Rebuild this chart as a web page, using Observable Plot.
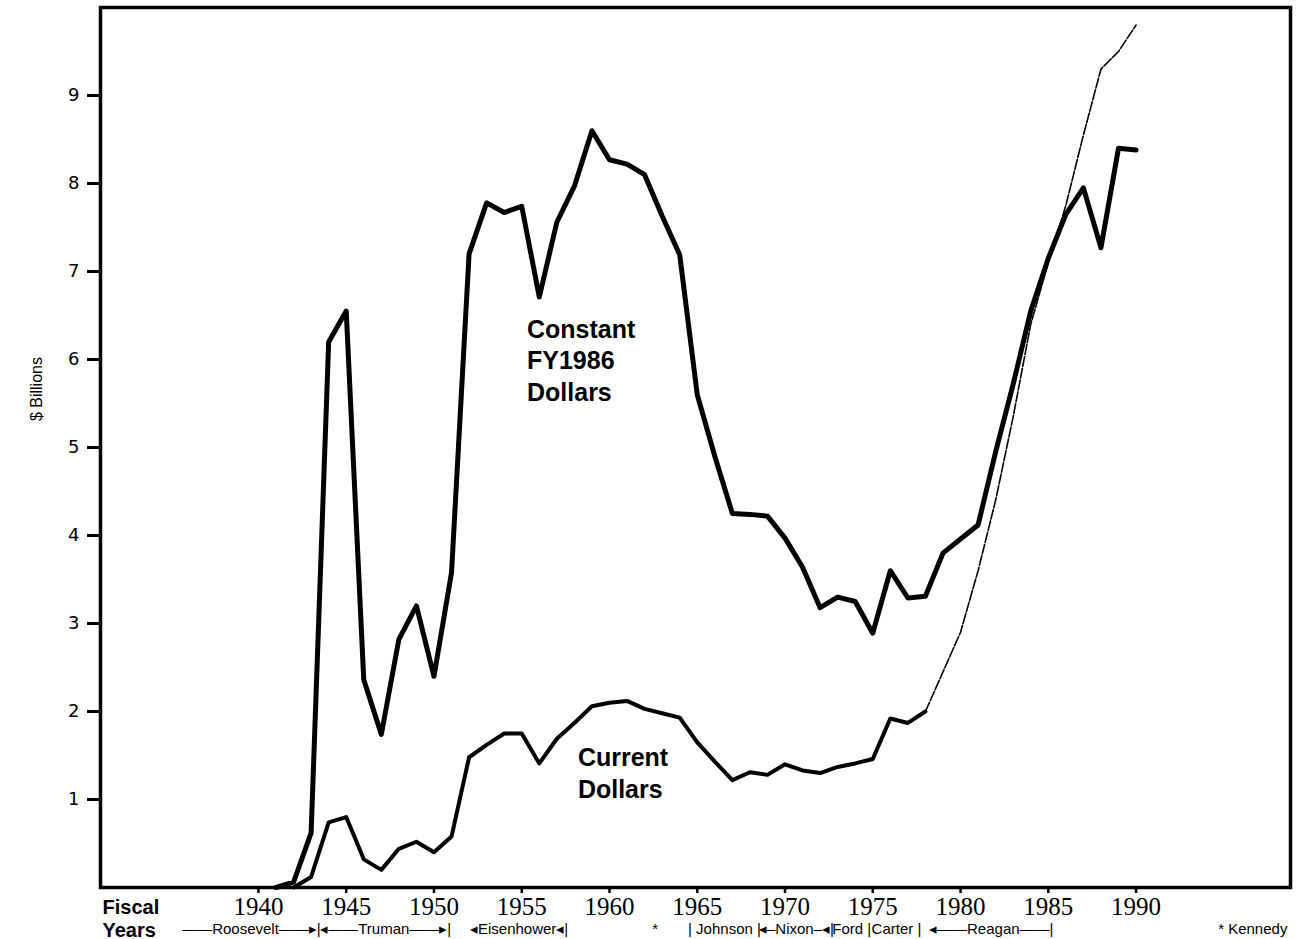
<!DOCTYPE html>
<html>
<head>
<meta charset="utf-8">
<script src="https://cdn.jsdelivr.net/npm/d3@7"></script>
<script src="https://cdn.jsdelivr.net/npm/@observablehq/plot@0.6"></script>
<style>
  html, body { margin: 0; padding: 0; background: #fff; }
  #chart svg { display: block; }
</style>
</head>
<body>
<div id="chart"></div>
<script>
// ---- Data ----
const constantYears = [1941,1942,1943,1944,1945,1946,1947,1948,1949,1950,
  1951,1952,1953,1954,1955,1956,1957,1958,1959,1960,
  1961,1962,1963,1964,1965,1966,1967,1968,1969,1970,
  1971,1972,1973,1974,1975,1976,1977,1978,1979,1980,
  1981,1982,1983,1984,1985,1986,1987,1988,1989,1990];
const constantValues = [0.0,0.06,0.62,6.2,6.55,2.36,1.74,2.82,3.2,2.4,
  3.58,7.2,7.78,7.67,7.74,6.71,7.56,7.97,8.6,8.27,
  8.22,8.1,7.63,7.19,5.6,4.9,4.25,4.24,4.22,3.97,
  3.64,3.18,3.3,3.25,2.89,3.6,3.29,3.31,3.8,3.96,
  4.12,4.95,5.72,6.55,7.15,7.65,7.95,7.27,8.4,8.38];

const currentYears = [1942,1943,1944,1945,1946,1947,1948,1949,1950,
  1951,1952,1953,1954,1955,1956,1957,1958,1959,1960,
  1961,1962,1963,1964,1965,1966,1967,1968,1969,1970,
  1971,1972,1973,1974,1975,1976,1977,1978];
const currentValues = [0.0,0.12,0.74,0.8,0.32,0.2,0.44,0.52,0.4,
  0.58,1.48,1.62,1.75,1.75,1.41,1.69,1.87,2.06,2.1,
  2.12,2.03,1.98,1.93,1.65,1.43,1.22,1.31,1.28,1.4,
  1.33,1.3,1.37,1.41,1.46,1.92,1.87,2.0];

// later years of the current-dollar series, drawn as a thin line
const currentLateYears = [1978,1979,1980,1981,1982,1983,1984,1985,1986,1987,1988,1989,1990];
const currentLateValues = [2.0,2.45,2.9,3.6,4.4,5.35,6.4,7.1,7.75,8.55,9.3,9.5,9.8];

const yTicks = [1,2,3,4,5,6,7,8,9];
const xTicks = [1940,1945,1950,1955,1960,1965,1970,1975,1980,1985,1990];

// presidents row under the axis (label, start year, end year as drawn)
const presLabels = ["——Roosevelt——▸|","◂——Truman——▸|","◂Eisenhower◂|","*","| Johnson |","◂–Nixon–◂|","Ford |","Carter |","◂——Reagan——|","* Kennedy"];
const presStart  = [1936.4,1943.0,1951.7,1962.3,1965.0,1968.6,1973.0,1974.9,1978.1,1994.9];
const presEnd    = [1942.8,1951.5,1958.0,1962.9,1968.1,1972.7,1974.6,1977.8,1985.4,1998.4];

const constantLabel = "Constant\nFY1986\nDollars";
const currentLabel = "Current\nDollars";
const yAxisLabel = "$ Billions";
const xAxisLabel = "Fiscal\nYears";

// ---- Tables built from the arrays ----
const constant = constantYears.map((year, i) => ({year, value: constantValues[i]}));
const current = currentYears.map((year, i) => ({year, value: currentValues[i]}));
const currentLate = currentLateYears.map((year, i) => ({year, value: currentLateValues[i]}));
const presidents = presLabels.map((label, i) => ({label, start: presStart[i], end: presEnd[i], mid: (presStart[i] + presEnd[i]) / 2}));

const sans = "'Liberation Sans', Arial, sans-serif";

const chart = Plot.plot({
  width: 1298,
  height: 939,
  marginLeft: 100,
  marginRight: 8,
  marginTop: 7,
  marginBottom: 52,
  style: {background: "#fff", color: "#000", fontFamily: sans, overflow: "visible"},
  x: {domain: [1931, 1998.8]},
  y: {domain: [0, 10]},
  marks: [
    Plot.axisY({ticks: yTicks, tickSize: 13, tickPadding: 8, strokeWidth: 3, fontSize: 18, fontFamily: "'DejaVu Sans', sans-serif", label: null, tickFormat: d => String(d)}),
    Plot.axisX({ticks: xTicks, tickSize: 6, tickPadding: 4, strokeWidth: 2.5, fontSize: 25, fontFamily: "'Liberation Serif', serif", label: null, tickFormat: d => String(d)}),
    Plot.line(current, {x: "year", y: "value", stroke: "#000", strokeWidth: 4, strokeLinejoin: "round", strokeLinecap: "round"}),
    Plot.line(currentLate, {x: "year", y: "value", stroke: "#000", strokeWidth: 1.6, strokeDasharray: "10,2", strokeLinejoin: "round"}),
    Plot.line(constant, {x: "year", y: "value", stroke: "#000", strokeWidth: 5, strokeLinejoin: "round", strokeLinecap: "round"}),
    Plot.frame({stroke: "#000", strokeWidth: 3.5}),
    Plot.text([constantLabel], {x: 1955.3, y: 6.5, text: d => d, textAnchor: "start", lineAnchor: "top", fontSize: 25, lineHeight: 1.26, fontWeight: "bold", fontFamily: sans, fill: "#000"}),
    Plot.text([currentLabel], {x: 1958.2, y: 1.64, text: d => d, textAnchor: "start", lineAnchor: "top", fontSize: 25, lineHeight: 1.28, fontWeight: "bold", fontFamily: sans, fill: "#000"}),
    Plot.text([yAxisLabel], {frameAnchor: "left", y: 5.3, dx: -64, rotate: -90, text: d => d, fontSize: 16, fontFamily: sans, fill: "#000"}),
    Plot.text([xAxisLabel], {frameAnchor: "bottom-left", dx: 2, dy: 10, text: d => d, textAnchor: "start", lineAnchor: "top", fontSize: 20, lineHeight: 1.15, fontWeight: "bold", fontFamily: sans, fill: "#000"}),
    Plot.text(presidents, {x: "mid", frameAnchor: "bottom", dy: 46, text: "label", fontSize: 15, fontFamily: sans, fill: "#000", ariaLabel: "presidents"})
  ]
});

document.getElementById("chart").appendChild(chart);

// stretch each president label to the span it covers on the x scale
const xs = chart.scale("x");
const presTexts = chart.querySelectorAll('g[aria-label="presidents"] text');
presTexts.forEach((t, i) => {
  const p = presidents[i];
  const w = xs.apply(p.end) - xs.apply(p.start);
  if (p.label.length > 1) {
    t.setAttribute("textLength", w.toFixed(1));
    t.setAttribute("lengthAdjust", "spacingAndGlyphs");
  }
});
</script>
</body>
</html>
